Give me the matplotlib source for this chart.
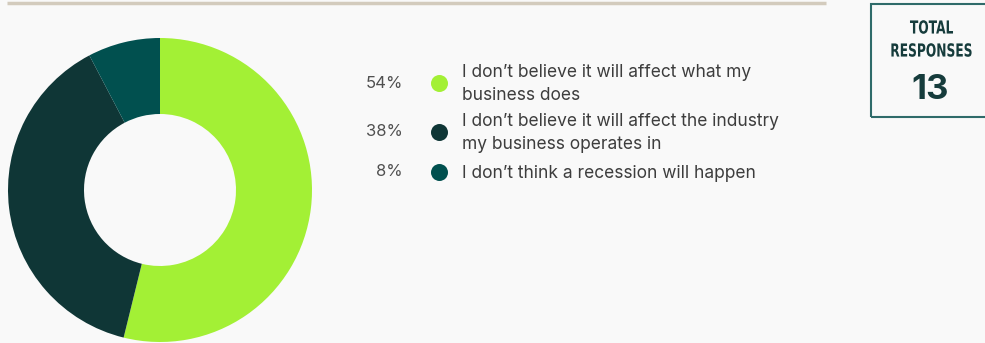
import matplotlib.pyplot as plt
from matplotlib.patches import Rectangle, PathPatch
from matplotlib.textpath import TextPath
from matplotlib.font_manager import FontProperties
from matplotlib.transforms import Affine2D

# Survey answers: how a recession would affect the business
answers = [
    "I don\u2019t believe it will affect what my\nbusiness does",
    "I don\u2019t believe it will affect the industry\nmy business operates in",
    "I don\u2019t think a recession will happen",
]
counts = [7, 5, 1]
colors = ["#a3f035", "#0f3636", "#01504f"]
total_responses = sum(counts)

W, H = 985, 343
fig = plt.figure(figsize=(W / 100, H / 100), dpi=100)
fig.patch.set_facecolor("#f9f9f9")
ax = fig.add_axes([0, 0, 1, 1])
ax.set_facecolor("#f9f9f9")

# donut, starting at 12 o'clock and going clockwise
ax.pie(counts, colors=colors, startangle=90, counterclock=False,
       center=(160, H - 190), radius=152, frame=True,
       wedgeprops=dict(width=76, linewidth=0))
ax.set_xlim(0, W)
ax.set_ylim(0, H)
ax.set_aspect("equal")
ax.axis("off")

# rule across the top
ax.plot([7, 826], [H - 3, H - 3], color="#d3cbbd", lw=2.5, solid_capstyle="butt")

# legend rows
font = "Inter"
rows_y = [83, 132, 172]
for y, n, label, c in zip(rows_y, counts, answers, colors):
    pct = round(100 * n / total_responses)
    ax.text(403, H - y, f"{pct}%", ha="right", va="center", fontsize=12,
            color="#505050", family=font)
    ax.scatter([439], [H - y], s=150, color=c, linewidths=0, zorder=3)
    ax.text(462, H - y - 1, label, ha="left", va="center", fontsize=12.5,
            color="#3d3d3d", family=font, linespacing=1.42)


def condensed_label(s, x, y, size, squeeze, color):
    # narrow caption built from a text path squeezed horizontally
    tp = TextPath((0, 0), s, size=size,
                  prop=FontProperties(family="DejaVu Sans", weight="bold"))
    ext = tp.get_extents()
    tr = (Affine2D().translate(-(ext.x0 + ext.x1) / 2, -(ext.y0 + ext.y1) / 2)
          .scale(squeeze, 1).translate(x, y))
    ax.add_patch(PathPatch(tr.transform_path(tp), facecolor=color,
                           edgecolor="none", clip_on=False))


# total responses box
box_color = "#163c3c"
ax.add_patch(Rectangle((871, H - 117), 120, 113, fill=False,
                       edgecolor="#2f6b6a", lw=1.5, clip_on=False))
condensed_label("TOTAL", 931.5, H - 27, 18, 0.68, box_color)
condensed_label("RESPONSES", 931.5, H - 50, 18, 0.68, box_color)
ax.text(930, H - 90, str(total_responses), ha="center", va="center",
        fontsize=25, fontweight="bold", color=box_color, family=font)

fig.savefig("out.png", dpi=100, facecolor=fig.get_facecolor())
